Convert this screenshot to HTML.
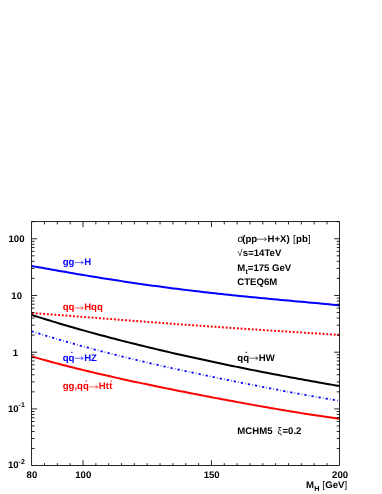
<!DOCTYPE html>
<html><head><meta charset="utf-8"><title>chart</title>
<style>
html,body{margin:0;padding:0;background:#fff;}
body{width:382px;height:494px;overflow:hidden;font-family:"Liberation Sans",sans-serif;}
svg{will-change:transform;}
svg text{text-rendering:geometricPrecision;font-family:"Liberation Sans",sans-serif;}
</style></head><body>
<svg width="382" height="494" viewBox="0 0 382 494" style="display:block">
<rect x="0" y="0" width="382" height="494" fill="#fff"/>
<path d="M31.60 265.99 L35.06 266.62 L38.52 267.24 L41.98 267.85 L45.44 268.47 L48.90 269.08 L52.36 269.69 L55.82 270.30 L59.28 270.91 L62.74 271.51 L66.20 272.11 L69.66 272.71 L73.11 273.30 L76.57 273.89 L80.03 274.47 L83.49 275.05 L86.95 275.63 L90.41 276.20 L93.87 276.77 L97.33 277.33 L100.79 277.89 L104.25 278.44 L107.71 278.99 L111.17 279.53 L114.63 280.07 L118.09 280.60 L121.55 281.13 L125.01 281.65 L128.47 282.17 L131.93 282.68 L135.39 283.19 L138.85 283.69 L142.31 284.19 L145.77 284.68 L149.22 285.16 L152.68 285.64 L156.14 286.11 L159.60 286.58 L163.06 287.04 L166.52 287.50 L169.98 287.95 L173.44 288.40 L176.90 288.84 L180.36 289.27 L183.82 289.70 L187.28 290.12 L190.74 290.54 L194.20 290.95 L197.66 291.36 L201.12 291.76 L204.58 292.16 L208.04 292.56 L211.50 292.94 L214.96 293.33 L218.42 293.71 L221.88 294.08 L225.33 294.45 L228.79 294.81 L232.25 295.18 L235.71 295.53 L239.17 295.89 L242.63 296.24 L246.09 296.58 L249.55 296.92 L253.01 297.26 L256.47 297.60 L259.93 297.93 L263.39 298.26 L266.85 298.59 L270.31 298.92 L273.77 299.24 L277.23 299.56 L280.69 299.88 L284.15 300.20 L287.61 300.52 L291.07 300.84 L294.53 301.15 L297.99 301.47 L301.44 301.78 L304.90 302.10 L308.36 302.42 L311.82 302.73 L315.28 303.05 L318.74 303.37 L322.20 303.69 L325.66 304.01 L329.12 304.33 L332.58 304.66 L336.04 304.99 L339.50 305.32" fill="none" stroke="#0000ff" stroke-width="2.0"/>
<path d="M31.60 313.01 L35.06 313.26 L38.52 313.52 L41.98 313.77 L45.44 314.03 L48.90 314.28 L52.36 314.54 L55.82 314.81 L59.28 315.07 L62.74 315.33 L66.20 315.60 L69.66 315.86 L73.11 316.13 L76.57 316.40 L80.03 316.67 L83.49 316.94 L86.95 317.21 L90.41 317.48 L93.87 317.75 L97.33 318.02 L100.79 318.29 L104.25 318.56 L107.71 318.83 L111.17 319.10 L114.63 319.37 L118.09 319.64 L121.55 319.91 L125.01 320.18 L128.47 320.44 L131.93 320.71 L135.39 320.98 L138.85 321.24 L142.31 321.51 L145.77 321.77 L149.22 322.04 L152.68 322.30 L156.14 322.56 L159.60 322.82 L163.06 323.08 L166.52 323.34 L169.98 323.60 L173.44 323.85 L176.90 324.11 L180.36 324.36 L183.82 324.62 L187.28 324.87 L190.74 325.12 L194.20 325.37 L197.66 325.61 L201.12 325.86 L204.58 326.10 L208.04 326.35 L211.50 326.59 L214.96 326.83 L218.42 327.07 L221.88 327.31 L225.33 327.54 L228.79 327.78 L232.25 328.01 L235.71 328.25 L239.17 328.48 L242.63 328.71 L246.09 328.94 L249.55 329.17 L253.01 329.39 L256.47 329.62 L259.93 329.84 L263.39 330.07 L266.85 330.29 L270.31 330.51 L273.77 330.74 L277.23 330.96 L280.69 331.18 L284.15 331.40 L287.61 331.61 L291.07 331.83 L294.53 332.05 L297.99 332.27 L301.44 332.48 L304.90 332.70 L308.36 332.92 L311.82 333.13 L315.28 333.35 L318.74 333.57 L322.20 333.78 L325.66 334.00 L329.12 334.22 L332.58 334.44 L336.04 334.65 L339.50 334.87" fill="none" stroke="#ff0000" stroke-width="2.0" stroke-dasharray="1.9 1.835" stroke-dashoffset="3.335"/>
<path d="M31.60 314.91 L35.06 316.01 L38.52 317.09 L41.98 318.17 L45.44 319.24 L48.90 320.30 L52.36 321.36 L55.82 322.40 L59.28 323.43 L62.74 324.45 L66.20 325.47 L69.66 326.47 L73.11 327.47 L76.57 328.46 L80.03 329.44 L83.49 330.41 L86.95 331.38 L90.41 332.34 L93.87 333.28 L97.33 334.22 L100.79 335.16 L104.25 336.08 L107.71 337.00 L111.17 337.91 L114.63 338.82 L118.09 339.71 L121.55 340.60 L125.01 341.49 L128.47 342.36 L131.93 343.23 L135.39 344.09 L138.85 344.95 L142.31 345.80 L145.77 346.64 L149.22 347.48 L152.68 348.31 L156.14 349.14 L159.60 349.96 L163.06 350.77 L166.52 351.58 L169.98 352.38 L173.44 353.17 L176.90 353.96 L180.36 354.75 L183.82 355.53 L187.28 356.30 L190.74 357.07 L194.20 357.84 L197.66 358.60 L201.12 359.35 L204.58 360.10 L208.04 360.85 L211.50 361.59 L214.96 362.32 L218.42 363.05 L221.88 363.78 L225.33 364.50 L228.79 365.22 L232.25 365.93 L235.71 366.64 L239.17 367.34 L242.63 368.04 L246.09 368.74 L249.55 369.43 L253.01 370.11 L256.47 370.80 L259.93 371.48 L263.39 372.15 L266.85 372.82 L270.31 373.49 L273.77 374.15 L277.23 374.81 L280.69 375.47 L284.15 376.12 L287.61 376.77 L291.07 377.42 L294.53 378.06 L297.99 378.70 L301.44 379.33 L304.90 379.96 L308.36 380.59 L311.82 381.21 L315.28 381.83 L318.74 382.45 L322.20 383.07 L325.66 383.68 L329.12 384.28 L332.58 384.89 L336.04 385.49 L339.50 386.08" fill="none" stroke="#000000" stroke-width="2.0"/>
<path d="M31.60 331.25 L35.06 332.35 L38.52 333.43 L41.98 334.51 L45.44 335.57 L48.90 336.62 L52.36 337.66 L55.82 338.68 L59.28 339.70 L62.74 340.70 L66.20 341.70 L69.66 342.68 L73.11 343.66 L76.57 344.62 L80.03 345.58 L83.49 346.52 L86.95 347.46 L90.41 348.39 L93.87 349.30 L97.33 350.22 L100.79 351.12 L104.25 352.01 L107.71 352.90 L111.17 353.78 L114.63 354.65 L118.09 355.51 L121.55 356.37 L125.01 357.22 L128.47 358.06 L131.93 358.90 L135.39 359.73 L138.85 360.56 L142.31 361.37 L145.77 362.19 L149.22 362.99 L152.68 363.79 L156.14 364.59 L159.60 365.38 L163.06 366.17 L166.52 366.95 L169.98 367.72 L173.44 368.49 L176.90 369.26 L180.36 370.02 L183.82 370.77 L187.28 371.53 L190.74 372.27 L194.20 373.02 L197.66 373.75 L201.12 374.49 L204.58 375.22 L208.04 375.95 L211.50 376.67 L214.96 377.39 L218.42 378.10 L221.88 378.82 L225.33 379.52 L228.79 380.23 L232.25 380.93 L235.71 381.63 L239.17 382.32 L242.63 383.01 L246.09 383.70 L249.55 384.38 L253.01 385.06 L256.47 385.74 L259.93 386.41 L263.39 387.08 L266.85 387.74 L270.31 388.41 L273.77 389.06 L277.23 389.72 L280.69 390.37 L284.15 391.02 L287.61 391.66 L291.07 392.31 L294.53 392.94 L297.99 393.58 L301.44 394.21 L304.90 394.83 L308.36 395.45 L311.82 396.07 L315.28 396.68 L318.74 397.29 L322.20 397.90 L325.66 398.50 L329.12 399.10 L332.58 399.69 L336.04 400.28 L339.50 400.86" fill="none" stroke="#0000ff" stroke-width="1.8" stroke-dasharray="2.2 2.2 0.55 2.24" stroke-dashoffset="0.13"/>
<path d="M31.60 356.41 L35.06 357.41 L38.52 358.40 L41.98 359.37 L45.44 360.33 L48.90 361.27 L52.36 362.21 L55.82 363.13 L59.28 364.04 L62.74 364.94 L66.20 365.83 L69.66 366.71 L73.11 367.58 L76.57 368.44 L80.03 369.29 L83.49 370.14 L86.95 370.97 L90.41 371.80 L93.87 372.61 L97.33 373.42 L100.79 374.23 L104.25 375.02 L107.71 375.81 L111.17 376.59 L114.63 377.37 L118.09 378.14 L121.55 378.90 L125.01 379.66 L128.47 380.41 L131.93 381.16 L135.39 381.90 L138.85 382.64 L142.31 383.37 L145.77 384.09 L149.22 384.82 L152.68 385.54 L156.14 386.25 L159.60 386.96 L163.06 387.67 L166.52 388.37 L169.98 389.07 L173.44 389.77 L176.90 390.46 L180.36 391.15 L183.82 391.83 L187.28 392.52 L190.74 393.19 L194.20 393.87 L197.66 394.54 L201.12 395.21 L204.58 395.88 L208.04 396.54 L211.50 397.20 L214.96 397.86 L218.42 398.52 L221.88 399.17 L225.33 399.82 L228.79 400.46 L232.25 401.10 L235.71 401.74 L239.17 402.38 L242.63 403.01 L246.09 403.64 L249.55 404.26 L253.01 404.88 L256.47 405.50 L259.93 406.12 L263.39 406.72 L266.85 407.33 L270.31 407.93 L273.77 408.53 L277.23 409.12 L280.69 409.71 L284.15 410.29 L287.61 410.87 L291.07 411.44 L294.53 412.01 L297.99 412.57 L301.44 413.12 L304.90 413.67 L308.36 414.22 L311.82 414.75 L315.28 415.28 L318.74 415.80 L322.20 416.32 L325.66 416.83 L329.12 417.33 L332.58 417.82 L336.04 418.30 L339.50 418.77" fill="none" stroke="#ff0000" stroke-width="2.0"/>
<rect x="31.6" y="221.6" width="307.90" height="243.85" fill="none" stroke="#000" stroke-width="0.85"/>
<path d="M44.49 465.45 v-2.3 M44.49 221.6 v2.8 M57.33 465.45 v-2.3 M57.33 221.6 v2.8 M70.17 465.45 v-2.3 M70.17 221.6 v2.8 M83.02 465.45 v-5.2 M83.02 221.6 v5.6 M95.86 465.45 v-2.3 M95.86 221.6 v2.8 M108.70 465.45 v-2.3 M108.70 221.6 v2.8 M121.54 465.45 v-2.3 M121.54 221.6 v2.8 M134.38 465.45 v-2.3 M134.38 221.6 v2.8 M147.22 465.45 v-2.3 M147.22 221.6 v2.8 M160.06 465.45 v-2.3 M160.06 221.6 v2.8 M172.91 465.45 v-2.3 M172.91 221.6 v2.8 M185.75 465.45 v-2.3 M185.75 221.6 v2.8 M198.59 465.45 v-2.3 M198.59 221.6 v2.8 M211.43 465.45 v-5.2 M211.43 221.6 v5.6 M224.27 465.45 v-2.3 M224.27 221.6 v2.8 M237.11 465.45 v-2.3 M237.11 221.6 v2.8 M249.96 465.45 v-2.3 M249.96 221.6 v2.8 M262.80 465.45 v-2.3 M262.80 221.6 v2.8 M275.64 465.45 v-2.3 M275.64 221.6 v2.8 M288.48 465.45 v-2.3 M288.48 221.6 v2.8 M301.32 465.45 v-2.3 M301.32 221.6 v2.8 M314.16 465.45 v-2.3 M314.16 221.6 v2.8 M327.00 465.45 v-2.3 M327.00 221.6 v2.8 M31.6 448.56 h3.0 M339.5 448.56 h-2.8 M31.6 438.57 h3.0 M339.5 438.57 h-2.8 M31.6 431.48 h3.0 M339.5 431.48 h-2.8 M31.6 425.98 h3.0 M339.5 425.98 h-2.8 M31.6 421.49 h3.0 M339.5 421.49 h-2.8 M31.6 417.70 h3.0 M339.5 417.70 h-2.8 M31.6 414.41 h3.0 M339.5 414.41 h-2.8 M31.6 411.51 h3.0 M339.5 411.51 h-2.8 M31.6 408.91 h5.5 M339.5 408.91 h-5.3 M31.6 391.84 h3.0 M339.5 391.84 h-2.8 M31.6 381.85 h3.0 M339.5 381.85 h-2.8 M31.6 374.76 h3.0 M339.5 374.76 h-2.8 M31.6 369.26 h3.0 M339.5 369.26 h-2.8 M31.6 364.77 h3.0 M339.5 364.77 h-2.8 M31.6 360.98 h3.0 M339.5 360.98 h-2.8 M31.6 357.69 h3.0 M339.5 357.69 h-2.8 M31.6 354.79 h3.0 M339.5 354.79 h-2.8 M31.6 352.19 h5.5 M339.5 352.19 h-5.3 M31.6 335.12 h3.0 M339.5 335.12 h-2.8 M31.6 325.13 h3.0 M339.5 325.13 h-2.8 M31.6 318.04 h3.0 M339.5 318.04 h-2.8 M31.6 312.54 h3.0 M339.5 312.54 h-2.8 M31.6 308.05 h3.0 M339.5 308.05 h-2.8 M31.6 304.26 h3.0 M339.5 304.26 h-2.8 M31.6 300.97 h3.0 M339.5 300.97 h-2.8 M31.6 298.07 h3.0 M339.5 298.07 h-2.8 M31.6 295.47 h5.5 M339.5 295.47 h-5.3 M31.6 278.40 h3.0 M339.5 278.40 h-2.8 M31.6 268.41 h3.0 M339.5 268.41 h-2.8 M31.6 261.32 h3.0 M339.5 261.32 h-2.8 M31.6 255.82 h3.0 M339.5 255.82 h-2.8 M31.6 251.33 h3.0 M339.5 251.33 h-2.8 M31.6 247.54 h3.0 M339.5 247.54 h-2.8 M31.6 244.25 h3.0 M339.5 244.25 h-2.8 M31.6 241.35 h3.0 M339.5 241.35 h-2.8 M31.6 238.75 h5.5 M339.5 238.75 h-5.3 M31.6 221.68 h3.0 M339.5 221.68 h-2.8" fill="none" stroke="#000" stroke-width="0.85"/>
<text x="31.9" y="478.4" text-anchor="middle" fill="#000" font-size="9.6" font-weight="bold">80</text>
<text x="83.3" y="478.4" text-anchor="middle" fill="#000" font-size="9.6" font-weight="bold">100</text>
<text x="211.7" y="478.4" text-anchor="middle" fill="#000" font-size="9.6" font-weight="bold">150</text>
<text x="340.1" y="478.4" text-anchor="middle" fill="#000" font-size="9.6" font-weight="bold">200</text>
<text x="24.5" y="242.0" text-anchor="end" fill="#000" font-size="9.6" font-weight="bold">100</text>
<text x="22.0" y="299.0" text-anchor="end" fill="#000" font-size="9.6" font-weight="bold">10</text>
<text x="18.2" y="355.8" text-anchor="end" fill="#000" font-size="9.6" font-weight="bold">1</text>
<text x="18.6" y="412.4" text-anchor="end" fill="#000" font-size="9.6" font-weight="bold">10</text><text x="18.6" y="407.1" text-anchor="start" fill="#000" font-size="7" font-weight="bold">-1</text>
<text x="18.6" y="468.4" text-anchor="end" fill="#000" font-size="9.6" font-weight="bold">10</text><text x="18.6" y="464.2" text-anchor="start" fill="#000" font-size="7" font-weight="bold">-2</text>
<text x="62.7" y="265.0" text-anchor="start" fill="#0000ff" font-size="9.6" font-weight="bold">gg</text><path d="M74.6 262.6 h8.5 M80.99999999999999 261.0 L83.39999999999999 262.6 L80.99999999999999 264.20000000000005" fill="none" stroke="#0000ff" stroke-width="0.6"/><text x="84.2" y="265.0" text-anchor="start" fill="#0000ff" font-size="9.6" font-weight="bold">H</text>
<text x="62.7" y="310.4" text-anchor="start" fill="#ff0000" font-size="9.6" font-weight="bold">qq</text><path d="M74.6 308.0 h8.5 M80.99999999999999 306.4 L83.39999999999999 308.0 L80.99999999999999 309.6" fill="none" stroke="#ff0000" stroke-width="0.6"/><text x="84.2" y="310.4" text-anchor="start" fill="#ff0000" font-size="9.6" font-weight="bold">Hqq</text>
<text x="62.7" y="360.6" text-anchor="start" fill="#0000ff" font-size="9.6" font-weight="bold">qq</text><rect x="71.1" y="351.8" width="1.4" height="1.0" fill="#0000ff"/><path d="M74.6 358.2 h8.5 M80.99999999999999 356.59999999999997 L83.39999999999999 358.2 L80.99999999999999 359.8" fill="none" stroke="#0000ff" stroke-width="0.6"/><text x="84.2" y="360.6" text-anchor="start" fill="#0000ff" font-size="9.6" font-weight="bold">HZ</text>
<text x="62.7" y="389.3" text-anchor="start" fill="#ff0000" font-size="9.6" font-weight="bold">gg,qq</text><rect x="85.6" y="380.5" width="1.4" height="1.0" fill="#ff0000"/><path d="M89.2 386.9 h8.5 M95.6 385.29999999999995 L98.0 386.9 L95.6 388.5" fill="none" stroke="#ff0000" stroke-width="0.6"/><text x="98.8" y="389.3" text-anchor="start" fill="#ff0000" font-size="9.6" font-weight="bold">Ht</text><text x="109.2" y="389.3" text-anchor="start" fill="#ff0000" font-size="9.6" font-weight="bold">t</text><rect x="110.39999999999999" y="380.5" width="1.4" height="1.0" fill="#ff0000"/>
<text x="237.3" y="360.6" text-anchor="start" fill="#000" font-size="9.6" font-weight="bold">qq</text><rect x="245.70000000000002" y="351.8" width="1.4" height="1.0" fill="#000"/><path d="M249.2 358.2 h8.5 M255.6 356.59999999999997 L258.0 358.2 L255.6 359.8" fill="none" stroke="#000" stroke-width="0.6"/><text x="258.8" y="360.6" text-anchor="start" fill="#000" font-size="9.6" font-weight="bold">HW</text>
<text x="237.5" y="241.6" text-anchor="start" fill="#000" font-size="10" font-weight="normal">σ</text><text x="242.3" y="241.6" text-anchor="start" fill="#000" font-size="9.6" font-weight="bold">(pp</text><path d="M256.9 239.2 h9.5 M264.3 237.6 L266.7 239.2 L264.3 240.79999999999998" fill="none" stroke="#000" stroke-width="0.6"/><text x="267.5" y="241.6" text-anchor="start" fill="#000" font-size="9.6" font-weight="bold">H+X)</text><text x="293.1" y="241.6" text-anchor="start" fill="#000" font-size="9.6" font-weight="normal">[</text><text x="296.1" y="241.6" text-anchor="start" fill="#000" font-size="9.6" font-weight="bold">pb</text><text x="308.0" y="241.6" text-anchor="start" fill="#000" font-size="9.6" font-weight="normal">]</text>
<text x="237.3" y="256.1" text-anchor="start" fill="#000" font-size="9.6" font-weight="normal">√</text><text x="242.8" y="256.1" text-anchor="start" fill="#000" font-size="9.6" font-weight="bold">s=14TeV</text>
<text x="237.3" y="270.5" text-anchor="start" fill="#000" font-size="9.6" font-weight="bold">M</text><text x="245.5" y="273.5" text-anchor="start" fill="#000" font-size="7.2" font-weight="bold">t</text><text x="247.8" y="270.5" text-anchor="start" fill="#000" font-size="9.6" font-weight="bold">=175 GeV</text>
<text x="237.3" y="285.1" text-anchor="start" fill="#000" font-size="9.6" font-weight="bold">CTEQ6M</text>
<text x="237.3" y="434.1" text-anchor="start" fill="#000" font-size="9.6" font-weight="bold">MCHM5</text><text x="277.5" y="434.1" text-anchor="start" fill="#000" font-size="9.6" font-weight="normal">ξ</text><text x="282.5" y="434.1" text-anchor="start" fill="#000" font-size="9.6" font-weight="bold">=0.2</text>
<text x="306.0" y="487.9" text-anchor="start" fill="#000" font-size="9.6" font-weight="bold">M</text><text x="314.2" y="491.4" text-anchor="start" fill="#000" font-size="7.2" font-weight="bold">H</text><text x="322.3" y="488.1" text-anchor="start" fill="#000" font-size="9.6" font-weight="normal">[</text><text x="325.2" y="488.1" text-anchor="start" fill="#000" font-size="9.6" font-weight="bold">GeV</text><text x="344.6" y="488.1" text-anchor="start" fill="#000" font-size="9.6" font-weight="normal">]</text>
</svg>
</body></html>
